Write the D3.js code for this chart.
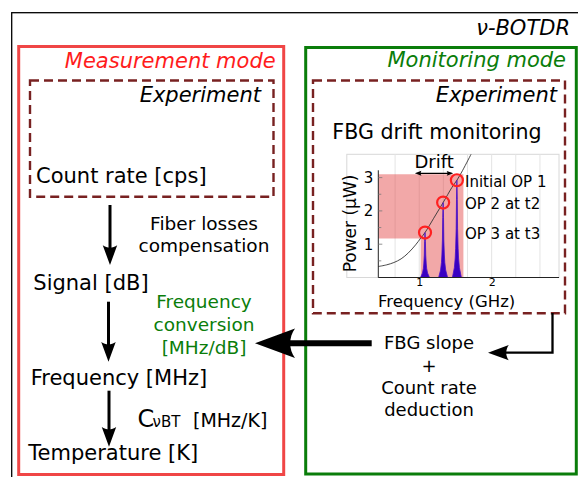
<!DOCTYPE html>
<html><head><meta charset="utf-8">
<script src="https://cdn.jsdelivr.net/npm/d3@7"></script>
<style>
body{margin:0;background:#fff}
svg{display:block}
text{font-family:"DejaVu Sans",sans-serif}
</style>
</head><body>
<svg id="c" width="578" height="477"></svg>
<script>
// ---------------- data ----------------
const title = "ν-BOTDR";
const modeTitles = ["Measurement mode", "Monitoring mode"];
const experimentLabel = "Experiment";
const stepLabels = ["Count rate [cps]", "Signal [dB]", "Frequency [MHz]", "Temperature [K]"];
const lossLines = ["Fiber losses", "compensation"];
const convLines = ["Frequency", "conversion", "[MHz/dB]"];
const coeffParts = ["C", "νBT", "[MHz/K]"];
const slopeLines = ["FBG slope", "+", "Count rate", "deduction"];
const insetTitle = "FBG drift monitoring";
const xAxisLabel = "Frequency (GHz)";
const yAxisLabel = "Power (μW)";
const driftLabel = "Drift";
const opLabels = ["Initial OP 1", "OP 2 at t2", "OP 3 at t3"];
const opFreq = [1.52, 1.33, 1.08];     // GHz
const opPower = [2.92, 2.25, 1.35];    // µW
const curveFreq = [0.435, 0.55, 0.65, 0.75, 0.85, 0.95, 1.02, 1.08, 1.2, 1.33, 1.45, 1.52, 1.6, 1.72];
const curvePower = [0.33, 0.38, 0.45, 0.56, 0.74, 0.98, 1.18, 1.35, 1.78, 2.25, 2.7, 2.92, 3.22, 3.72];
const peakOffset = [-0.062, -0.035, -0.023, -0.017, -0.0097, -0.0055, 0, 0.0055, 0.0097, 0.017, 0.023, 0.035, 0.062];
const peakFrac   = [0, 0.1, 0.2, 0.3, 0.5, 0.8, 1, 0.8, 0.5, 0.3, 0.2, 0.1, 0];
const bandFreq = [1.02, 1.61];
const bandPower = [1.17, 3.1];
const driftFreq = [0.94, 1.47];
const xTicks = [1, 2];
const yTicks = [1, 2, 3];
const yMinorTicks = [0.5, 1.5, 2.5];
const xGrid = [0.667, 1, 1.333, 1.667, 2, 2.333, 2.667];

// ---------------- drawing ----------------
const svg = d3.select("#c");
const F = "DejaVu Sans";

function headPath(s){
  return `M${-10.926*s},${4.03*s} L0,0 L${-10.926*s},${-4.0*s} C${-9.18*s},${-1.63*s} ${-9.19*s},${1.62*s} ${-10.926*s},${4.03*s}Z`;
}
function head(x, y, ang, s, col){
  svg.append("path").attr("d", headPath(s))
    .attr("transform", `translate(${x},${y}) rotate(${ang})`).attr("fill", col || "#000");
}

// outer frame
svg.append("rect").attr("x", 11.7).attr("y", 12.7).attr("width", 620).attr("height", 520)
  .attr("fill", "none").attr("stroke", "#000").attr("stroke-width", 1.3);
svg.append("text").attr("x", 570).attr("y", 35).attr("text-anchor", "end")
  .attr("font-style", "italic").attr("font-size", 21).text(title);

// mode boxes
const red = "#f04646", green = "#0a7d0a";
svg.append("rect").attr("x", 18.7).attr("y", 46.5).attr("width", 283.7-18.7).attr("height", 474.5-46.5)
  .attr("fill", "none").attr("stroke", red).attr("stroke-width", 3);
svg.append("rect").attr("x", 305.7).attr("y", 47.5).attr("width", 576.3-305.7).attr("height", 474-47.5)
  .attr("fill", "none").attr("stroke", green).attr("stroke-width", 3);
svg.append("text").attr("x", 275.7).attr("y", 67.5).attr("text-anchor", "end").attr("font-style", "italic")
  .attr("font-size", 21).attr("fill", "#ff1c1c").text(modeTitles[0]);
svg.append("text").attr("x", 566).attr("y", 67).attr("text-anchor", "end").attr("font-style", "italic")
  .attr("font-size", 21).attr("fill", green).text(modeTitles[1]);

// experiment boxes
const brown = "#782121";
[[30, 80.5, 273.5, 196.7, 261, 102], [313, 80.5, 565, 313.3, 557, 102]].forEach(b => {
  svg.append("rect").attr("x", b[0]).attr("y", b[1]).attr("width", b[2]-b[0]).attr("height", b[3]-b[1])
    .attr("fill", "none").attr("stroke", brown).attr("stroke-width", 2.4).attr("stroke-dasharray", "9,5");
  svg.append("text").attr("x", b[4]).attr("y", b[5]).attr("text-anchor", "end").attr("font-style", "italic")
    .attr("font-size", 21).text(experimentLabel);
});

// left column: steps
const stepPos = [[36, 183], [33.3, 290], [30.7, 384.5], [28.3, 460]];
stepLabels.forEach((t, i) => {
  svg.append("text").attr("x", stepPos[i][0]).attr("y", stepPos[i][1]).attr("font-size", 21).text(t);
});
// down arrows
[[110, 205, 265], [108.5, 301.7, 361.7], [109, 390.7, 446.7]].forEach(a => {
  svg.append("line").attr("x1", a[0]).attr("x2", a[0]).attr("y1", a[1]).attr("y2", a[2]-14)
    .attr("stroke", "#000").attr("stroke-width", 3);
  head(a[0], a[2], 90, 1.8);
});
lossLines.forEach((t, i) => {
  svg.append("text").attr("x", 204).attr("y", 229.5 + i*22.8).attr("text-anchor", "middle")
    .attr("font-size", 18.5).text(t);
});
convLines.forEach((t, i) => {
  svg.append("text").attr("x", 204).attr("y", 308 + i*22.8).attr("text-anchor", "middle")
    .attr("font-size", 18.5).attr("fill", green).text(t);
});
// C_vBT [MHz/K]
svg.append("text").attr("x", 137.5).attr("y", 427.3).attr("font-family", "DejaVu Sans Condensed")
  .attr("font-size", 24).text(coeffParts[0]);
svg.append("text").attr("x", 152.5).attr("y", 427.3).attr("font-family", "DejaVu Sans Condensed")
  .attr("font-size", 15).text(coeffParts[1]);
svg.append("text").attr("x", 193).attr("y", 427.3).attr("font-family", "DejaVu Sans Condensed")
  .attr("font-size", 19).text(coeffParts[2]);

// right column: slope text
slopeLines.forEach((t, i) => {
  svg.append("text").attr("x", 429).attr("y", 349.3 + i*22.3).attr("text-anchor", "middle")
    .attr("font-size", 18).text(t);
});
// big arrow to conversion
svg.append("line").attr("x1", 371.7).attr("x2", 285).attr("y1", 343.3).attr("y2", 343.3)
  .attr("stroke", "#000").attr("stroke-width", 6);
head(255, 343.3, 180, 3.66);
// elbow arrow
svg.append("path").attr("d", "M552.5,313 V352.7 H505").attr("fill", "none")
  .attr("stroke", "#000").attr("stroke-width", 2.3);
head(488, 352.7, 180, 1.9);

// inset title
svg.append("text").attr("x", 437).attr("y", 139.3).attr("text-anchor", "middle")
  .attr("font-size", 20.6).text(insetTitle);

// ---------------- inset chart ----------------
const xS = d3.scaleLinear().domain([0, 2.93]).range([346.8, 559]);
const yS = d3.scaleLinear().domain([0, 3.7]).range([277.5, 154.3]);
const g = svg.append("g");
g.append("defs").append("clipPath").attr("id", "pc").append("rect")
  .attr("x", xS(0)).attr("y", yS(3.7)).attr("width", xS(2.93)-xS(0)).attr("height", yS(0)-yS(3.7));
// frame + grid
g.append("rect").attr("x", xS(0)).attr("y", yS(3.7)).attr("width", xS(2.93)-xS(0)).attr("height", yS(0)-yS(3.7))
  .attr("fill", "#fff").attr("stroke", "#d8d8d8").attr("stroke-width", 1);
g.selectAll(".gx").data(xGrid).join("line").attr("x1", d => xS(d)).attr("x2", d => xS(d))
  .attr("y1", yS(3.7)).attr("y2", yS(0)).attr("stroke", "#e4e4e4").attr("stroke-width", 1);
// pink band
const band = [[0.435, bandPower[1]], [bandFreq[1], bandPower[1]], [bandFreq[1], 0],
  [bandFreq[0], 0], [bandFreq[0], bandPower[0]], [0.435, bandPower[0]]];
g.append("path").attr("d", d3.line().x(d => xS(d[0])).y(d => yS(d[1]))(band) + "Z")
  .attr("fill", "rgba(226,62,62,0.45)");
// curve
g.append("path").attr("clip-path", "url(#pc)")
  .attr("d", d3.line().x(d => xS(d[0])).y(d => yS(d[1])).curve(d3.curveCatmullRom)(curveFreq.map((f, i) => [f, curvePower[i]])))
  .attr("fill", "none").attr("stroke", "#333").attr("stroke-width", 0.9);
// peaks
opFreq.forEach((f, i) => {
  const pts = peakOffset.map((o, k) => [f + o, opPower[i]*peakFrac[k]]);
  g.append("path").attr("d", d3.line().x(d => xS(d[0])).y(d => yS(d[1]))(pts) + "Z")
    .attr("fill", "#3a00c2").attr("stroke", "#4a10c8").attr("stroke-width", 0.8);
});
// axes
const yAx = d3.axisLeft(yS).tickValues(yTicks).tickSize(0).tickPadding(5).tickFormat(d3.format("d"));
const ya = g.append("g").attr("transform", `translate(${xS(0.435)},0)`).call(yAx);
ya.select(".domain").remove();
ya.selectAll("text").attr("font-family", F).attr("font-size", 15).attr("fill", "#000");
g.append("line").attr("x1", xS(0.435)).attr("x2", xS(0.435)).attr("y1", yS(3.22)).attr("y2", yS(0))
  .attr("stroke", "#222").attr("stroke-width", 1);
g.selectAll(".yt").data(yTicks.concat(yMinorTicks)).join("line")
  .attr("x1", xS(0.435)).attr("x2", d => xS(0.435) + (yTicks.includes(d) ? 4 : 3))
  .attr("y1", d => yS(d)).attr("y2", d => yS(d)).attr("stroke", "#777").attr("stroke-width", 0.8);
const xAx = d3.axisBottom(xS).tickValues(xTicks).tickSize(0).tickPadding(1).tickFormat(d3.format("d"));
const xa = g.append("g").attr("transform", `translate(0,${yS(0)})`).call(xAx);
xa.select(".domain").remove();
xa.selectAll("text").attr("font-family", F).attr("font-size", 11).attr("fill", "#000");
g.append("line").attr("x1", xS(0.435)).attr("x2", xS(2.93)).attr("y1", yS(0)).attr("y2", yS(0))
  .attr("stroke", "#222").attr("stroke-width", 1);
g.append("text").attr("x", 446.7).attr("y", 306.5).attr("text-anchor", "middle").attr("font-size", 16.5).text(xAxisLabel);
g.append("text").attr("transform", `translate(356,223.5) rotate(-90)`).attr("text-anchor", "middle")
  .attr("font-size", 17).text(yAxisLabel);
// circles
opFreq.forEach((f, i) => {
  g.append("circle").attr("cx", xS(f)).attr("cy", yS(opPower[i])).attr("r", 6)
    .attr("fill", "none").attr("stroke", "#ff2020").attr("stroke-width", 2.2);
  g.append("text").attr("x", 465).attr("y", yS(opPower[i]) + 6.5).attr("font-size", 15).text(opLabels[i]);
});
// drift arrow
const dy = yS(3.13);
g.append("line").attr("x1", xS(driftFreq[0]) + 3).attr("x2", xS(driftFreq[1]) - 3).attr("y1", dy).attr("y2", dy)
  .attr("stroke", "#000").attr("stroke-width", 1.2);
head(xS(driftFreq[0]), dy, 180, 0.6);
head(xS(driftFreq[1]), dy, 0, 0.6);
g.append("text").attr("x", xS((driftFreq[0] + driftFreq[1]) / 2)).attr("y", 168.3).attr("text-anchor", "middle")
  .attr("font-size", 18).text(driftLabel);
</script>
</body></html>
